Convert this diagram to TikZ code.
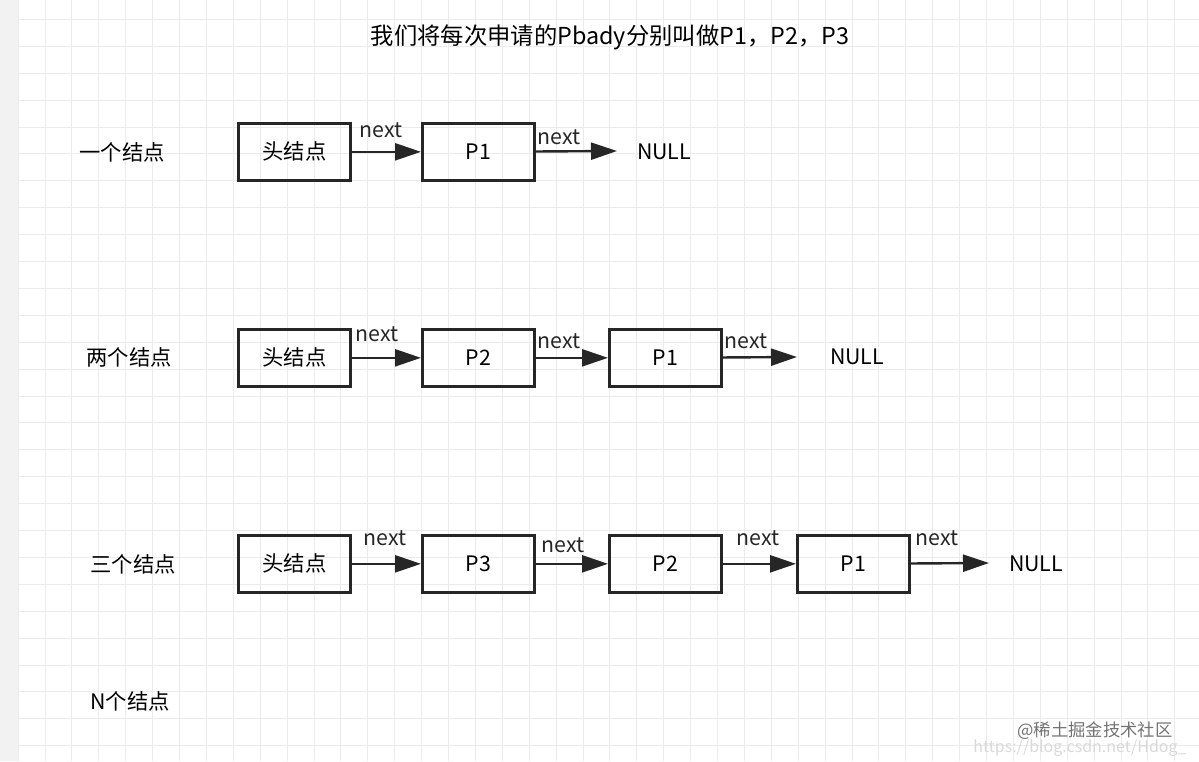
\documentclass[tikz,border=0pt]{standalone}
\usepackage{fontspec}
\setmainfont{Noto Sans CJK SC}
\usetikzlibrary{arrows.meta}
\begin{document}
\begin{tikzpicture}[x=0.75pt,y=-0.75pt,
 box/.style={draw=black!85,line width=2pt,minimum width=112*0.75pt,minimum height=57*0.75pt,inner sep=0pt,font=\fontsize{16}{16}\selectfont,anchor=north west},
 lab/.style={font=\fontsize{16}{16}\selectfont},
 nx/.style={font=\fontsize{16}{16}\selectfont,text=black!85},
 arr/.style={draw=black!85,line width=1.8pt,-{Triangle[length=26pt*0.75,width=17pt*0.75]}}]
\useasboundingbox (0,0) rectangle (1199,761);
\fill[black!5] (0,0) rectangle (18,761);
\foreach \i in {0,...,44}{\draw[black!8,line width=0.6pt] ({18+26.9*\i},0) -- ({18+26.9*\i},761);}
\foreach \i in {0,...,27}{\draw[black!8,line width=0.6pt] (18,{19.3+26.9*\i}) -- (1199,{19.3+26.9*\i});}
\node[font=\fontsize{17.5}{17.5}\selectfont] (t) at (610,37) {我们将每次申请的Pbady分别叫做P1，P2，P3};
% row 1
\node[lab] (l1) at (122,152) {一个结点};
\node[box] (h1) at (237,122) {头结点};
\node[box] (a1) at (421,122) {P1};
\node[lab] (n1) at (664,152) {NULL};
\coordinate (e1) at (617,151);
\draw[arr] (h1) -- (a1);
\draw[arr] (a1) -- (e1);
\node[nx] at (381,130) {next};
\node[nx] at (559,137) {next};
% row 2
\node[lab] (l2) at (129,357) {两个结点};
\node[box] (h2) at (237,328) {头结点};
\node[box] (b2) at (421,328) {P2};
\node[box] (a2) at (608,328) {P1};
\node[lab] (n2) at (857,357) {NULL};
\coordinate (e2) at (797,357);
\draw[arr] (h2) -- (b2);
\draw[arr] (b2) -- (a2);
\draw[arr] (a2) -- (e2);
\node[nx] at (377,334) {next};
\node[nx] at (559,341) {next};
\node[nx] at (746,341) {next};
% row 3
\node[lab] (l3) at (133,564) {三个结点};
\node[box] (h3) at (237,534) {头结点};
\node[box] (c3) at (421,534) {P3};
\node[box] (b3) at (608,534) {P2};
\node[box] (a3) at (796,534) {P1};
\node[lab] (n3) at (1036,564) {NULL};
\coordinate (e3) at (989,563);
\draw[arr] (h3) -- (c3);
\draw[arr] (c3) -- (b3);
\draw[arr] (b3) -- (a3);
\draw[arr] (a3) -- (e3);
\node[nx] at (385,538) {next};
\node[nx] at (563,545) {next};
\node[nx] at (758,538) {next};
\node[nx] at (937,538) {next};
\node[lab] (l4) at (130,701) {N个结点};
\node[font=\fontsize{13}{13}\selectfont,text=black!55] (w) at (1095,731) {@稀土掘金技术社区};
\node[font=\fontsize{12}{12}\selectfont,text=black!15] (w2) at (1080,748) {https://blog.csdn.net/Hdog\_};
\end{tikzpicture}
\end{document}
